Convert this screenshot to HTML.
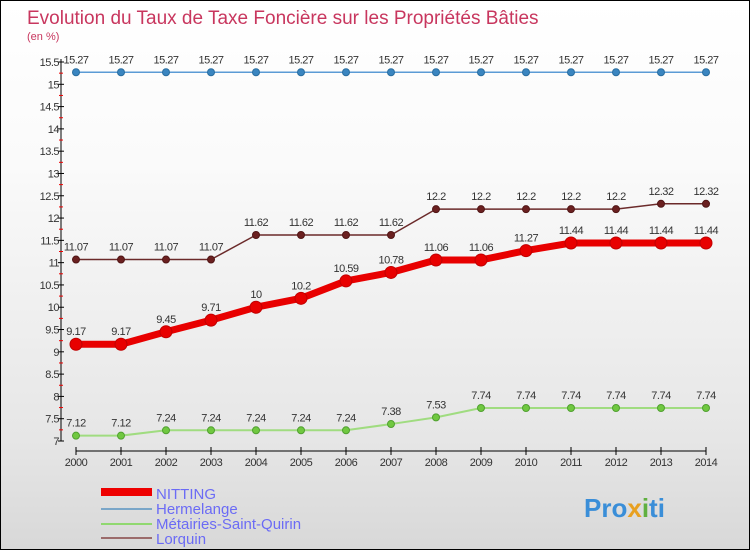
<!DOCTYPE html>
<html><head><meta charset="utf-8"><style>
body{margin:0}
#c{width:748px;height:548px;border:1px solid #000;background:linear-gradient(#fff,#fafafa 30%,#e6e6e6 80%,#d8d8d8);position:relative;font-family:"Liberation Sans",sans-serif;overflow:hidden}
svg{position:absolute;left:0;top:0}
</style></head><body>
<div id="c">
<svg id="s" width="750" height="550">
<text x="26" y="23" font-size="19" fill="#c8365e">Evolution du Taux de Taxe Foncière sur les Propriétés Bâties</text>
<text x="26" y="39" font-size="11" fill="#c8365e">(en %)</text>
<g id="ax"></g><g id="ser"></g>
<g font-size="15" fill="#6b6bf5">
<rect x="100" y="487" width="51" height="8" fill="#e00"/>
<text x="155" y="498">NITTING</text>
<rect x="100" y="507" width="51" height="2" fill="#7aa6c8"/>
<text x="155" y="513">Hermelange</text>
<rect x="100" y="522" width="51" height="2" fill="#90d870"/>
<text x="155" y="528">Métairies-Saint-Quirin</text>
<rect x="100" y="536" width="51" height="2" fill="#9b6b6b"/>
<text x="155" y="543">Lorquin</text>
</g>
<text x="583" y="516" font-size="26" font-weight="bold" fill="#3a8ed8">Pro<tspan fill="#e8a020">x</tspan><tspan fill="#60b040">i</tspan>ti</text>
</svg>
</div>
<script>
const years=[2000,2001,2002,2003,2004,2005,2006,2007,2008,2009,2010,2011,2012,2013,2014];
const nitting=[9.17,9.17,9.45,9.71,10,10.2,10.59,10.78,11.06,11.06,11.27,11.44,11.44,11.44,11.44];
const hermelange=[15.27,15.27,15.27,15.27,15.27,15.27,15.27,15.27,15.27,15.27,15.27,15.27,15.27,15.27,15.27];
const metairies=[7.12,7.12,7.24,7.24,7.24,7.24,7.24,7.38,7.53,7.74,7.74,7.74,7.74,7.74,7.74];
const lorquin=[11.07,11.07,11.07,11.07,11.62,11.62,11.62,11.62,12.2,12.2,12.2,12.2,12.2,12.32,12.32];
const yTicks=[7,7.5,8,8.5,9,9.5,10,10.5,11,11.5,12,12.5,13,13.5,14,14.5,15,15.5];
const NS='http://www.w3.org/2000/svg';
const X=i=>75+i*45, Y=v=>440-(v-7)*(379/8.5);
function mk(t,a,p){const e=document.createElementNS(NS,t);for(const k in a)e.setAttribute(k,a[k]);p.appendChild(e);return e;}
const ax=document.getElementById('ax'), ser=document.getElementById('ser');
let l=mk('line',{x1:60,y1:58,x2:60,y2:440,stroke:'#000'},ax);


l=mk('line',{x1:75,y1:450,x2:705,y2:450,stroke:'#000'},ax);


yTicks.forEach((v,i)=>{
 mk('line',{x1:57,y1:Y(v),x2:63,y2:Y(v),stroke:'#000'},ax);
 if(i<yTicks.length-1)mk('line',{x1:58,y1:Y(v+0.25),x2:62,y2:Y(v+0.25),stroke:'#e00'},ax);
 const t=mk('text',{x:58,y:Y(v)+4,'text-anchor':'end','font-size':11,fill:'#333','letter-spacing':'-0.5'},ax);
 t.textContent=v;
 
 
});
years.forEach((yr,i)=>{
 mk('line',{x1:X(i),y1:446,x2:X(i),y2:454,stroke:'#000'},ax);
 const t=mk('text',{x:X(i),y:465,'text-anchor':'middle','font-size':11,fill:'#333','letter-spacing':'-0.5'},ax);
 t.textContent=yr;
 
 
});
function series(d,name,col,w,r,dot,dotStroke){
 const g=mk('g',{},ser);
 
 
 mk('polyline',{points:d.map((v,i)=>X(i)+','+Y(v)).join(' '),fill:'none',stroke:col,'stroke-width':w,'stroke-linejoin':'round'},g);
 d.forEach((v,i)=>{
  const c=mk('circle',{cx:X(i),cy:Y(v),r:r,fill:dot,stroke:dotStroke,'stroke-width':1},g);
  
  
  const t=mk('text',{x:X(i),y:Y(v)-9,'text-anchor':'middle','font-size':11,fill:'#333','letter-spacing':'-0.5'},g);
  t.textContent=v;
  
  
 });
}
series(hermelange,'hermelange','#5b9bd5',1.5,3.5,'#3a85c0','#2a6ea0');
series(metairies,'metairies','#a0dc80',2,3.5,'#70c840','#50a030');
series(lorquin,'lorquin','#6b2a2a',1.5,3.5,'#6b2020','#501515');
series(nitting,'nitting','#e80000',7,6,'#e80000','#c00000');
</script>
</body></html>
